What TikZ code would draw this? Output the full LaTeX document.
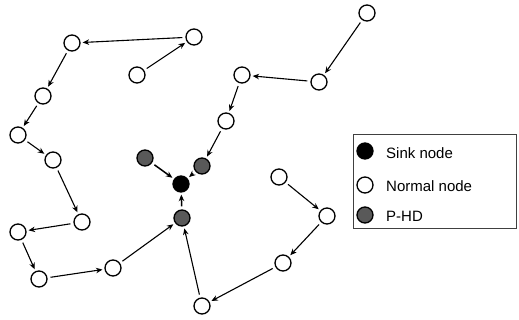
\documentclass[tikz,border=0pt]{standalone}
\usepackage{fontspec}
\setmainfont{Liberation Sans}
\usetikzlibrary{arrows.meta}
\tikzset{
  nd/.style={circle,draw=black,line width=1.3pt,minimum size=16pt,inner sep=0pt},
  normal/.style={nd,fill=white},
  sink/.style={nd,fill=black},
  phd/.style={nd,fill=black!65},
  link/.style={line width=1.1pt,-{Stealth[length=6.5pt,width=5.5pt]},shorten >=2pt,shorten <=3pt},
  lbl/.style={font=\fontsize{15}{17}\selectfont,anchor=west,inner sep=0pt}
}
\begin{document}
\begin{tikzpicture}[x=1pt,y=-1pt]
\useasboundingbox (0,0) rectangle (519,320);
% normal nodes
\node[normal] (A) at (72,43) {};
\node[normal] (B) at (194,37) {};
\node[normal] (C) at (137,75) {};
\node[normal] (D) at (43,96) {};
\node[normal] (E) at (18,135) {};
\node[normal] (F) at (53,160) {};
\node[normal] (I) at (82,222) {};
\node[normal] (J) at (18,232) {};
\node[normal] (K) at (39,279) {};
\node[normal] (L) at (113,268) {};
\node[normal] (M) at (202,306) {};
\node[normal] (N) at (367,13) {};
\node[normal] (O) at (319,82) {};
\node[normal] (G) at (242,75) {};
\node[normal] (H) at (226,121) {};
\node[normal] (Q) at (279,177) {};
\node[normal] (R) at (327,216) {};
\node[normal] (S) at (283,263) {};
% sink and P-HD
\node[sink] (K0) at (181,184) {};
\node[phd] (P1) at (145,158) {};
\node[phd] (P2) at (202,166) {};
\node[phd] (P3) at (182,218) {};
% links
\draw[link] (B) -- (A);
\draw[link] (C) -- (B);
\draw[link] (A) -- (D);
\draw[link] (D) -- (E);
\draw[link] (E) -- (F);
\draw[link] (F) -- (I);
\draw[link] (I) -- (J);
\draw[link] (J) -- (K);
\draw[link] (K) -- (L);
\draw[link] (L) -- (P3);
\draw[link] (M) -- (P3);
\draw[link] (S) -- (M);
\draw[link] (R) -- (S);
\draw[link] (Q) -- (R);
\draw[link] (N) -- (O);
\draw[link] (O) -- (G);
\draw[link] (G) -- (H);
\draw[link] (H) -- (P2);
\draw[link,line width=1.5pt] (P3) -- (K0);
\draw[link,line width=1.5pt] (P1) -- (K0);
\draw[link,line width=1.5pt] (P2) -- (K0);
% legend
\node[draw=black!75,line width=0.8pt,minimum width=163pt,minimum height=94pt,inner sep=0pt] (leg) at (434.5,181) {};
\node[sink] (L1) at (365,151) {};
\node[normal] (L2) at (365,185) {};
\node[phd] (L3) at (365,215) {};
\node[lbl] (T1) at (386,153) {Sink node};
\node[lbl] (T2) at (386,186) {Normal node};
\node[lbl] (T3) at (386,216) {P-HD};
\end{tikzpicture}
\end{document}
